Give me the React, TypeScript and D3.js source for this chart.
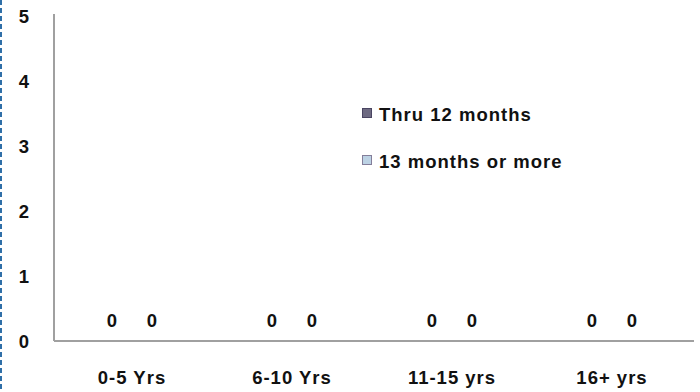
import React from "react";
import * as d3 from "d3";

const categories = ["0-5 Yrs", "6-10 Yrs", "11-15 yrs", "16+ yrs"];
const seriesNames = ["Thru 12 months", "13 months or more"];
const thru12 = [0, 0, 0, 0];
const over13 = [0, 0, 0, 0];
const yTicks = [0, 1, 2, 3, 4, 5];
const seriesColors = ["#6e6a82", "#bcd2e4"];
const seriesStroke = ["#4a4562", "#847e9a"];

export default function App() {
  const W = 700, H = 392;
  const left = 54, right = 694, top = 16, bottom = 341;
  const x = d3.scaleBand<string>().domain(categories).range([left - 2, right - 2]);
  const x1 = d3.scaleBand<number>().domain([0, 1]).range([0, 80]).paddingInner(0);
  const y = d3.scaleLinear().domain([0, 5]).range([bottom, top]);
  const series = [thru12, over13];
  const font = "'Liberation Sans', Arial, sans-serif";
  const fs = 18.5;
  const ls = 1;
  return (
    <div style={{ position: "fixed", left: 0, top: 0 }}>
      <svg width={W} height={H} style={{ display: "block", background: "#fff" }}>
        <line x1={1} x2={1} y1={0} y2={H} stroke="#2f6fa8" strokeWidth={2} strokeDasharray="5 3" />
        {yTicks.map((t) => (
          <text key={t} x={29} y={y(t)} dy="0.36em" textAnchor="end" fontFamily={font} fontWeight="bold" fontSize={fs} fill="#111">
            {t}
          </text>
        ))}
        <line x1={left} x2={left} y1={top - 2} y2={bottom} stroke="#a0a0a0" strokeWidth={2} />
        <line x1={left} x2={right} y1={bottom} y2={bottom} stroke="#a0a0a0" strokeWidth={2} />
        {categories.map((c, i) =>
          series.map((s, j) => {
            const cx = (x(c) as number) + x.bandwidth() / 2 - 40 + (x1(j) as number) + x1.bandwidth() / 2;
            const h = bottom - y(s[i]);
            return (
              <g key={c + j}>
                <rect x={cx - 15} y={y(s[i])} width={30} height={h} fill={seriesColors[j]} />
                <text x={cx} y={y(s[i]) - 14} textAnchor="middle" fontFamily={font} fontWeight="bold" fontSize={fs} fill="#111">
                  {s[i]}
                </text>
              </g>
            );
          })
        )}
        {categories.map((c) => (
          <text key={c} x={(x(c) as number) + x.bandwidth() / 2} y={384} textAnchor="middle" fontFamily={font} fontWeight="bold" fontSize={fs} letterSpacing={ls} fill="#111">
            {c}
          </text>
        ))}
        {seriesNames.map((n, j) => (
          <g key={n} transform={`translate(362, ${108 + j * 47})`}>
            <rect x={0.5} y={0.5} width={9} height={9} fill={seriesColors[j]} stroke={seriesStroke[j]} strokeWidth={1} />
            <text x={17} y={13} fontFamily={font} fontWeight="bold" fontSize={fs} letterSpacing={ls} fill="#111">
              {n}
            </text>
          </g>
        ))}
      </svg>
    </div>
  );
}
